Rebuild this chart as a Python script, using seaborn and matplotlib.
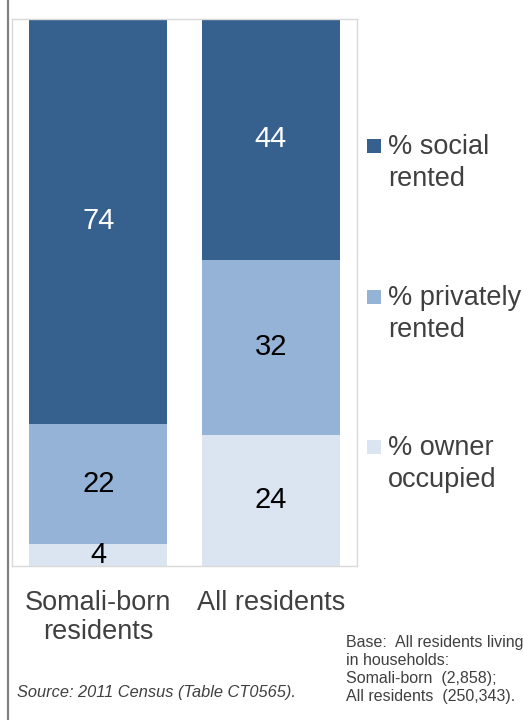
import numpy as np
import pandas as pd
import matplotlib.pyplot as plt
from matplotlib.patches import Rectangle
from matplotlib.lines import Line2D
import seaborn as sns

groups = ["Somali-born\nresidents", "All residents"]
owner = [4, 24]
private = [22, 32]
social = [74, 44]
series_names = ["% social\nrented", "% privately\nrented", "% owner\noccupied"]
colors = ["#36608E", "#95B3D7", "#DBE5F1"]
label_colors = ["white", "black", "black"]

sns.set_style("white")
plt.rcParams["font.family"] = ["Liberation Sans", "DejaVu Sans"]

df = pd.DataFrame({"group": groups, "owner": owner, "private": private, "social": social})
df["top_private"] = df["owner"] + df["private"]
df["top_social"] = df["top_private"] + df["social"]

W, H = 523, 720
fig = plt.figure(figsize=(W / 100, H / 100), dpi=100)
ax = fig.add_axes([12 / W, 1 - 566 / H, 345 / W, 547 / H])

# stacked bars: draw tallest first
for col, c in zip(["top_social", "top_private", "owner"], colors):
    sns.barplot(data=df, x="group", y=col, color=c, width=0.8, ax=ax,
                saturation=1, linewidth=0)

# segment labels
segs = [("social", "top_private"), ("private", "owner"), ("owner", None)]
for (val_col, base_col), tc in zip(segs, label_colors):
    for i, row in df.iterrows():
        base = row[base_col] if base_col else 0
        ax.text(i, base + row[val_col] / 2, f"{row[val_col]}", ha="center",
                va="center", fontsize=21, color=tc)

ax.set_ylim(0, 100)
ax.set_xlim(-0.5, 1.5)
ax.set_yticks([])
ax.set_xlabel("")
ax.set_ylabel("")
ax.tick_params(axis="x", length=0, labelsize=19.5, colors="#404040", pad=17)
for lab in ax.get_xticklabels():
    lab.set_verticalalignment("top")
    lab.set_linespacing(1.15)
for s in ax.spines.values():
    s.set_color("#D9D9D9")
    s.set_linewidth(1)

# legend: square aligned with first line of each label
legend_y = [146, 297, 447]
for name, c, y in zip(series_names, colors, legend_y):
    fig.patches.append(Rectangle((367 / W, 1 - (y + 7) / H), 14 / W, 14 / H,
                                 transform=fig.transFigure, facecolor=c,
                                 edgecolor="none"))
    fig.text(388 / W, 1 - (y - 12) / H, name, fontsize=19.5, color="#404040",
             va="top", ha="left", linespacing=1.32)

# left border line
fig.add_artist(Line2D([7.5 / W, 7.5 / W], [0, 1], color="#808080", linewidth=1.6))

fig.text(17 / W, 1 - 692 / H, "Source: 2011 Census (Table CT0565).", fontsize=11.8,
         style="italic", color="#404040", va="center")
fig.text(346 / W, 1 - 669.5 / H,
         "Base:  All residents living\nin households:\nSomali-born  (2,858);\nAll residents  (250,343).",
         fontsize=11.5, color="#404040", va="center", linespacing=1.27)

fig.savefig("out.png", dpi=100)
